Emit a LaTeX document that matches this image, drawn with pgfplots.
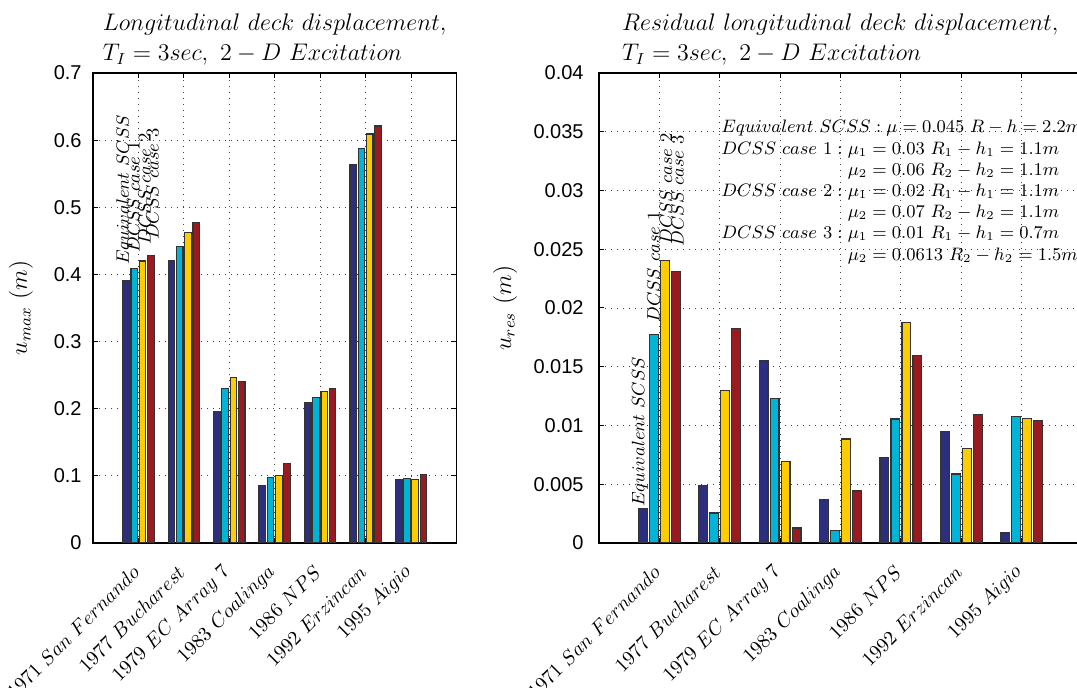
\documentclass[border=0pt]{standalone}
\usepackage{fontspec}
\usepackage{pgfplots}
\usepackage{pgfplotstable}
\pgfplotsset{compat=1.18}
\newfontfamily\helv{Liberation Sans}
\definecolor{cb}{RGB}{44,46,127}
\definecolor{cc}{RGB}{0,180,216}
\definecolor{cy}{RGB}{255,204,0}
\definecolor{cr}{RGB}{153,27,32}

\pgfplotstableread{
x b c y r
1 0.391 0.409 0.420 0.428
2 0.421 0.441 0.463 0.477
3 0.196 0.230 0.247 0.240
4 0.086 0.098 0.100 0.118
5 0.209 0.217 0.226 0.230
6 0.563 0.587 0.609 0.621
7 0.095 0.096 0.094 0.102
}\leftdata
\pgfplotstableread{
x b c y r
1 0.00289 0.01773 0.02406 0.02312
2 0.00488 0.00255 0.01296 0.01827
3 0.01549 0.01228 0.00695 0.00128
4 0.00369 0.00108 0.00885 0.00443
5 0.00726 0.01055 0.01875 0.01594
6 0.00950 0.00587 0.00803 0.01095
7 0.00085 0.01075 0.01061 0.01044
}\rightdata

\pgfplotsset{
  mystyle/.style={
    scale only axis,
    height=235pt,
    xmin=0, xmax=8,
    ymin=0,
    scaled y ticks=false,
    xtick={1,...,7},
    xticklabels={$1971\ San\ Fernando$,$1977\ Bucharest$,$1979\ EC\ Array\ 7$,$1983\ Coalinga$,$1986\ NPS$,$1992\ Erzincan$,$1995\ Aigio$},
    xticklabel style={xshift=-1.2pt, yshift=-12.9pt, rotate=45, anchor=east, inner sep=0pt, font=\fontsize{9.6}{12}\selectfont},
    yticklabel style={font=\helv\fontsize{10}{12}\selectfont, anchor=east, inner sep=0pt},
    /pgf/number format/assume math mode=true,
    grid=major,
    major grid style={black!75, line width=0.4pt, dash pattern=on 0.6pt off 2.4pt},
    tick align=inside,
    major tick length=2.5pt,
    tick style={black, line width=0.5pt},
    axis line style={black, line width=0.8pt},
    title style={at={(0.5,1)}, anchor=south, align=left, inner sep=0pt, yshift=-2.3pt, font=\fontsize{12}{15}\selectfont},
    ylabel style={at={(rel axis cs:0,0.5)}, anchor=center, inner sep=0pt, font=\fontsize{12}{14}\selectfont},
  },
  bb/.style={ybar, bar width=0.145, bar shift=-0.273, fill=cb, draw=black!80, line width=0.6pt},
  bc/.style={ybar, bar width=0.145, bar shift=-0.091, fill=cc, draw=black!80, line width=0.6pt},
  by/.style={ybar, bar width=0.145, bar shift=0.091, fill=cy, draw=black!80, line width=0.6pt},
  br/.style={ybar, bar width=0.145, bar shift=0.273, fill=cr, draw=black!80, line width=0.6pt},
}

\begin{document}
\begin{tikzpicture}
\useasboundingbox (0,0) rectangle (538.5pt,-344pt);
\clip (0,0) rectangle (538.5pt,-344pt);

\begin{axis}[mystyle,
  at={(46.5pt,-271.5pt)}, anchor=south west,
  width=181.75pt,
  ymax=0.7,
  ytick={0,0.1,0.2,0.3,0.4,0.5,0.6,0.7},
  yticklabels={0,0.1,0.2,0.3,0.4,0.5,0.6,0.7},
  yticklabel style={xshift=-5.5pt},
  title={$Longitudinal\ deck\ displacement,$\\$T_I=3sec,\ 2-D\ Excitation$},
  ylabel={$u_{max}\ (m)$},
  ylabel style={yshift=36pt},
]
\addplot[bb] table[x=x,y=b] {\leftdata};
\addplot[bc] table[x=x,y=c] {\leftdata};
\addplot[by] table[x=x,y=y] {\leftdata};
\addplot[br] table[x=x,y=r] {\leftdata};
\begin{scope}[every node/.style={rotate=90, anchor=west, inner sep=0pt, font=\fontsize{9}{11}\selectfont}]
\node at (axis cs:0.693,0.414) {$Equivalent\ SCSS$};
\node at (axis cs:0.891,0.432) {$DCSS\ case\ 1$};
\node at (axis cs:1.133,0.444) {$DCSS\ case\ 2$};
\node at (axis cs:1.309,0.451) {$DCSS\ case\ 3$};
\end{scope}
\end{axis}

\begin{axis}[mystyle,
  at={(299.5pt,-271.5pt)}, anchor=south west,
  width=241.5pt,
  ymax=0.04,
  ytick={0,0.005,0.01,0.015,0.02,0.025,0.03,0.035,0.04},
  yticklabels={0,0.005,0.01,0.015,0.02,0.025,0.03,0.035,0.04},
  yticklabel style={xshift=-7.5pt},
  title={$Residual\ longitudinal\ deck\ displacement,$\\$T_I=3sec,\ 2-D\ Excitation$},
  ylabel={$u_{res}\ (m)$},
  ylabel style={yshift=47pt},
]
\addplot[bb] table[x=x,y=b] {\rightdata};
\addplot[bc] table[x=x,y=c] {\rightdata};
\addplot[by] table[x=x,y=y] {\rightdata};
\addplot[br] table[x=x,y=r] {\rightdata};
\begin{scope}[every node/.style={rotate=90, anchor=west, inner sep=0pt, font=\fontsize{9}{11}\selectfont}]
\node at (axis cs:0.679,0.00306) {$Equivalent\ SCSS$};
\node at (axis cs:0.903,0.01872) {$DCSS\ case\ 1$};
\node at (axis cs:1.110,0.02536) {$DCSS\ case\ 2$};
\node at (axis cs:1.300,0.02520) {$DCSS\ case\ 3$};
\end{scope}
\node[anchor=north west, align=left, inner sep=0pt, font=\fontsize{8.6}{10.6}\selectfont] at (axis cs:2.02,0.0360) {%
$Equivalent\ SCSS:\mu=0.045\ R-h=2.2m$\\
$DCSS\ case\ 1:\mu_1=0.03\ R_1-h_1=1.1m$\\
$\phantom{DCSS\ case\ 1}\mathrel{\phantom{:}}\mu_2=0.06\ R_2-h_2=1.1m$\\
$DCSS\ case\ 2:\mu_1=0.02\ R_1-h_1=1.1m$\\
$\phantom{DCSS\ case\ 2}\mathrel{\phantom{:}}\mu_2=0.07\ R_2-h_2=1.1m$\\
$DCSS\ case\ 3:\mu_1=0.01\ R_1-h_1=0.7m$\\
$\phantom{DCSS\ case\ 3}\mathrel{\phantom{:}}\mu_2=0.0613\ R_2-h_2=1.5m$};
\end{axis}
\end{tikzpicture}
\end{document}
